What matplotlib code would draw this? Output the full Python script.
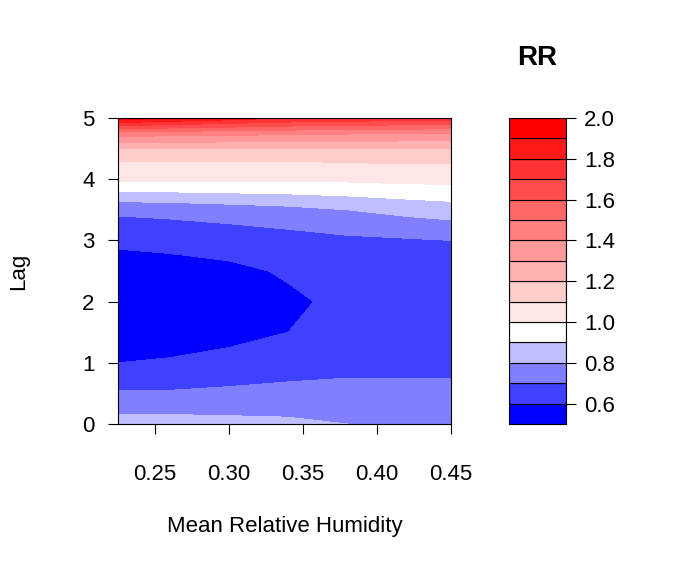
import numpy as np
import matplotlib.pyplot as plt
from matplotlib.colors import ListedColormap, BoundaryNorm, to_hex, to_rgb

# humidity grid and lag grid
humidity = [0.225, 0.26, 0.30, 0.34, 0.38, 0.42, 0.45]
lag = [0, 0.5, 1, 1.5, 2, 2.5, 3, 3.5, 4, 4.25, 4.5, 4.75, 5]
# RR values: rows = lag, columns = humidity
rr = [
    [0.84, 0.84, 0.83, 0.82, 0.80, 0.79, 0.80],
    [0.71, 0.71, 0.72, 0.73, 0.73, 0.73, 0.73],
    [0.60, 0.61, 0.63, 0.65, 0.67, 0.67, 0.67],
    [0.54, 0.55, 0.57, 0.60, 0.64, 0.65, 0.66],
    [0.53, 0.54, 0.56, 0.585, 0.62, 0.64, 0.65],
    [0.55, 0.56, 0.58, 0.61, 0.64, 0.65, 0.66],
    [0.62, 0.63, 0.64, 0.66, 0.68, 0.69, 0.70],
    [0.72, 0.73, 0.75, 0.77, 0.80, 0.83, 0.85],
    [1.02, 1.02, 1.02, 1.02, 1.02, 1.03, 1.03],
    [1.08, 1.08, 1.08, 1.08, 1.09, 1.10, 1.10],
    [1.20, 1.20, 1.20, 1.20, 1.20, 1.20, 1.20],
    [1.45, 1.44, 1.43, 1.42, 1.41, 1.40, 1.40],
    [1.95, 1.90, 1.85, 1.80, 1.78, 1.76, 1.75],
]
levels = [0.5, 0.6, 0.7, 0.8, 0.9, 1.0, 1.1, 1.2, 1.3, 1.4, 1.5, 1.6, 1.7, 1.8, 1.9, 2.0]

def ramp(c1, c2, n):
    a, b = np.array(to_rgb(c1)), np.array(to_rgb(c2))
    return [to_hex(a + (b - a) * i / (n - 1)) for i in range(n)]

colors = ramp("blue", "white", 5) + ramp("white", "red", 11)[1:]
cmap = ListedColormap(colors)
norm = BoundaryNorm(levels, cmap.N)

plt.rcParams['font.family'] = 'Liberation Sans'
fig = plt.figure(figsize=(6.85, 5.71), dpi=100)

ax = fig.add_axes([118/685, 147/571, 333/685, 306/571])
ax.contourf(humidity, lag, rr, levels=levels, cmap=cmap, norm=norm)
ax.set_xlim(0.225, 0.45)
ax.set_ylim(0, 5)
ax.set_xticks([0.25, 0.30, 0.35, 0.40, 0.45])
ax.set_xticklabels(["0.25", "0.30", "0.35", "0.40", "0.45"])
ax.set_yticks([0, 1, 2, 3, 4, 5])
ax.tick_params(labelsize=16, length=7, pad=10)
ax.tick_params(axis='x', pad=22)
ax.set_xlabel("Mean Relative Humidity", fontsize=16, labelpad=22)
ax.set_ylabel("Lag", fontsize=16, labelpad=38)

cax = fig.add_axes([509/685, 147/571, 57/685, 306/571])
for lo, hi, c in zip(levels[:-1], levels[1:], colors):
    cax.bar(0.5, hi - lo, bottom=lo, width=1, color=c, edgecolor='black', linewidth=0.8)
cax.set_xlim(0, 1)
cax.set_ylim(0.5, 2.0)
cax.set_xticks([])
cax.yaxis.tick_right()
cax.set_yticks([0.6, 0.8, 1.0, 1.2, 1.4, 1.6, 1.8, 2.0])
cax.set_yticklabels(["0.6", "0.8", "1.0", "1.2", "1.4", "1.6", "1.8", "2.0"])
cax.tick_params(labelsize=16, length=7, pad=6)
cax.set_title("RR", fontsize=20, fontweight='bold', pad=38)

fig.savefig("out.png", dpi=100)
